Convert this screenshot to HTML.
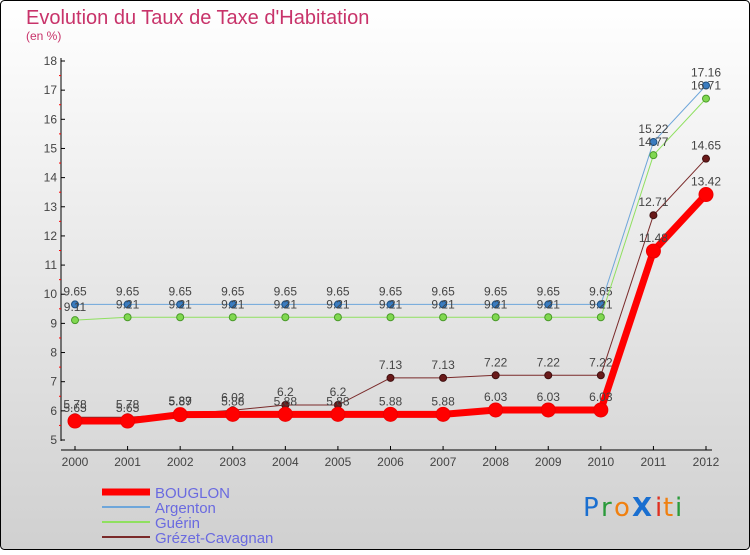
<!DOCTYPE html>
<html><head><meta charset="utf-8"><style>
body{margin:0;width:750px;height:550px;overflow:hidden;font-family:"Liberation Sans",sans-serif}
</style></head><body>
<svg id="c" width="750" height="550" xmlns="http://www.w3.org/2000/svg">
<defs><linearGradient id="bg" x1="0" y1="0" x2="0" y2="1"><stop offset="0" stop-color="#ffffff"/><stop offset="1" stop-color="#d0d0d0"/></linearGradient></defs>
<rect x="0.5" y="0.5" width="749" height="549" rx="4" fill="url(#bg)" stroke="#000"/>
<text x="26" y="24" font-size="20" fill="#c8336a">Evolution du Taux de Taxe d'Habitation</text>
<text x="26" y="40" font-size="12" fill="#c8336a">(en %)</text>
<g id="axes"></g><g id="series"></g><g id="legend"></g>
<g font-size="26" font-family="'DejaVu Sans',sans-serif">
<text x="583" y="516" fill="#1a6fd0">P</text><text x="601" y="516" fill="#2a9a3a">r</text><text x="614" y="516" fill="#f08010">o</text><text x="632" y="516" fill="#1a6fd0" font-weight="bold">X</text><text x="655" y="516" fill="#e03020">i</text><text x="663" y="516" fill="#f08010">t</text><text x="675" y="516" fill="#2a9a3a">i</text></g>
</svg>
<script>
const years=[2000,2001,2002,2003,2004,2005,2006,2007,2008,2009,2010,2011,2012];
const bouglon=[5.65,5.65,5.87,5.88,5.88,5.88,5.88,5.88,6.03,6.03,6.03,11.48,13.42];
const argenton=[9.65,9.65,9.65,9.65,9.65,9.65,9.65,9.65,9.65,9.65,9.65,15.22,17.16];
const guerin=[9.11,9.21,9.21,9.21,9.21,9.21,9.21,9.21,9.21,9.21,9.21,14.77,16.71];
const grezet=[5.78,5.78,5.89,6.02,6.2,6.2,7.13,7.13,7.22,7.22,7.22,12.71,14.65];
const yTicks=[5,6,7,8,9,10,11,12,13,14,15,16,17,18];
const NS="http://www.w3.org/2000/svg";
const X=i=>75+i*(706-75)/12, Y=v=>440-(v-5)*(440-61)/13;
function mk(t,a,p){const e=document.createElementNS(NS,t);for(const k in a)e.setAttribute(k,a[k]);p.appendChild(e);return e;}
const ax=document.getElementById('axes');
let e=mk('line',{x1:61,y1:58,x2:61,y2:441,stroke:'#000'},ax);


e=mk('line',{x1:61,y1:450,x2:712,y2:450,stroke:'#000'},ax);


yTicks.forEach(v=>{mk('line',{x1:61,y1:Y(v),x2:65,y2:Y(v),stroke:'#000'},ax);
 if(v<18)mk('line',{x1:59,y1:Y(v+0.5),x2:61,y2:Y(v+0.5),stroke:'#f00'},ax);
 const t=mk('text',{x:57,y:Y(v)+4,'text-anchor':'end','font-size':12,fill:'#444'},ax);t.textContent=v;
 
 });
years.forEach((y,i)=>{mk('line',{x1:X(i),y1:446,x2:X(i),y2:450,stroke:'#000'},ax);
 const t=mk('text',{x:X(i),y:466,'text-anchor':'middle','font-size':12,fill:'#444'},ax);t.textContent=y;
 
 });
const sg=document.getElementById('series');
function series(name,vals,color,w,r,dot,dotStroke){
 const g=mk('g',{},sg);
 
 
 mk('polyline',{points:vals.map((v,i)=>X(i)+','+Y(v)).join(' '),fill:'none',stroke:color,'stroke-width':w},g);
 vals.forEach((v,i)=>{mk('circle',{cx:X(i),cy:Y(v),r:r,fill:dot,stroke:dotStroke},g);
  const t=mk('text',{x:X(i),y:Y(v)-9,'text-anchor':'middle','font-size':12,fill:'#444'},g);
  t.textContent=String(v);
  
  });
}
series('argenton',argenton,'#6ea6da',1,3.5,'#3a7cc0','#1d4f80');
series('guerin',guerin,'#8fe060',1,3.5,'#80d850','#4a9a2a');
series('grezet',grezet,'#7a2a2a',1,3.5,'#6a1a1a','#401010');
series('bouglon',bouglon,'#ff0000',7,7,'#ff0000','#ee0000');
const lg=document.getElementById('legend');
[['BOUGLON','#ff0000',7],['Argenton','#6ea6da',2],['Guérin','#8fe060',2],['Grézet-Cavagnan','#7a2a2a',2]].forEach((d,i)=>{
 const g=mk('g',{},lg);
 
 
 const y=492+i*15;
 mk('line',{x1:102,y1:y,x2:150,y2:y,stroke:d[1],'stroke-width':d[2]},g);
 const t=mk('text',{x:155,y:y+6,'font-size':15,fill:'#6a6ae0'},g);t.textContent=d[0];
});
</script>
</body></html>
